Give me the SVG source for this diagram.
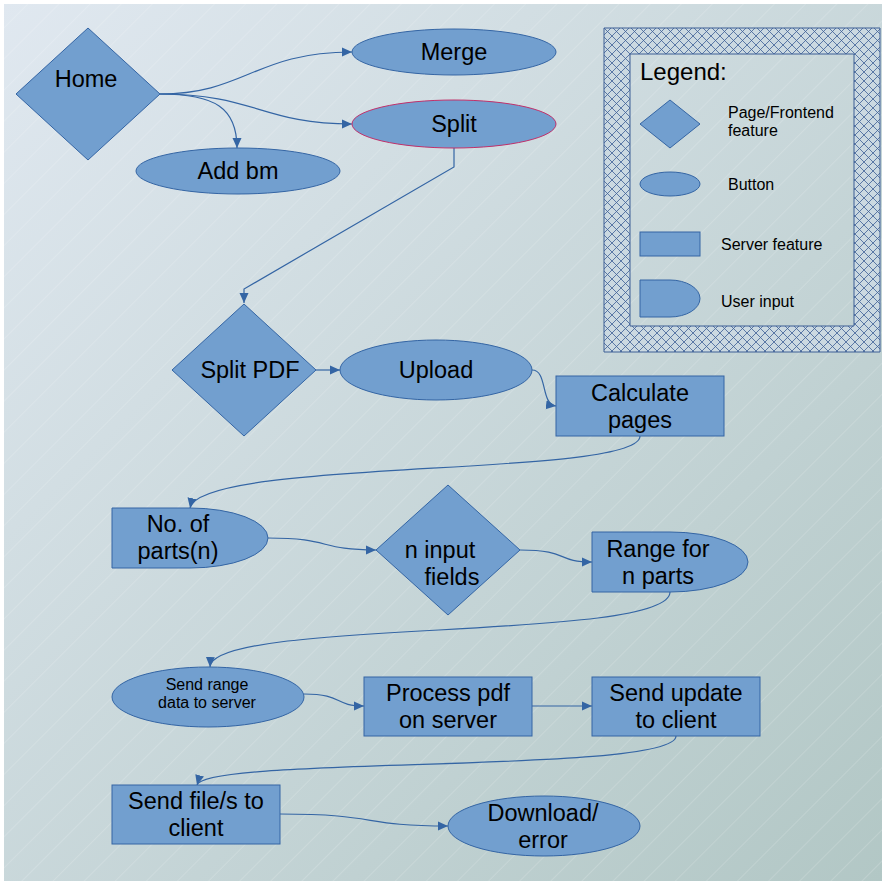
<svg xmlns="http://www.w3.org/2000/svg" width="887" height="885" viewBox="0 0 887 885">
<defs>
<linearGradient id="bg" x1="0" y1="0" x2="1" y2="1">
<stop offset="0" stop-color="#e0e8f0"/>
<stop offset="1" stop-color="#b2c7c5"/>
</linearGradient>
<pattern id="diag" width="22" height="22" patternUnits="userSpaceOnUse" patternTransform="rotate(45)">
<line x1="0" y1="0" x2="0" y2="22" stroke="#ffffff" stroke-opacity="0.3" stroke-width="1"/>
</pattern>
<pattern id="hatch" width="9" height="9" patternUnits="userSpaceOnUse">
<rect width="9" height="9" fill="#cbd9e1"/>
<path d="M0,0 L9,9 M9,0 L0,9" stroke="#3d5f95" stroke-width="0.8"/>
</pattern>
<marker id="arr" viewBox="0 0 10 10" refX="10" refY="5" markerWidth="10" markerHeight="10" markerUnits="userSpaceOnUse" orient="auto">
<path d="M0,0.5 L10,5 L0,9.5 Z" fill="#3465a4"/>
</marker>
<style>
.n{fill:#729fcf;stroke:#3465a4;stroke-width:1}
.t{font-family:"Liberation Sans",Arial,sans-serif;font-size:23.5px;fill:#000;text-anchor:middle}
.s{font-family:"Liberation Sans",Arial,sans-serif;font-size:16px;fill:#000}
.c{fill:none;stroke:#3465a4;stroke-width:1.2;marker-end:url(#arr)}
</style>
</defs>
<rect x="0" y="0" width="887" height="885" fill="#ffffff"/>
<rect x="4" y="4" width="878" height="877" fill="url(#bg)"/>
<rect x="4" y="4" width="878" height="877" fill="url(#diag)"/>

<g id="legend">
<path d="M604,28 H880 V352 H604 Z M630,54 V326 H854 V54 Z" fill="url(#hatch)" fill-rule="evenodd" stroke="#3d5f95" stroke-width="1"/>
<text class="t" x="640" y="80" style="text-anchor:start;font-size:24px">Legend:</text>
<polygon class="n" points="640,124 670,100 700,124 670,148"/>
<text class="s" x="728" y="118">Page/Frontend</text>
<text class="s" x="728" y="136">feature</text>
<ellipse class="n" cx="670" cy="184" rx="30" ry="12"/>
<text class="s" x="728" y="190">Button</text>
<rect class="n" x="640" y="232" width="60" height="24"/>
<text class="s" x="721" y="250">Server feature</text>
<path class="n" d="M640,280 H670 A30,18.5 0 0 1 670,317 H640 Z"/>
<text class="s" x="721" y="307">User input</text>
</g>

<g id="connectors">
<path class="c" d="M160,94 C245,94 255,52 352,52"/>
<path class="c" d="M160,94 C255,94 262,124 352,124"/>
<path class="c" d="M160,94 C215,94 237,108 237,148"/>
<path class="c" d="M454,148 L454,167 L244,289 L244,303"/>
<path class="c" d="M316,370 L340,370"/>
<path class="c" d="M532,370 C548,370 540,404 556,406"/>
<path class="c" d="M640,436 C640,478 200,458 190,508"/>
<path class="c" d="M268,538 C332,538 318,550 376,550"/>
<path class="c" d="M520,550 C570,550 555,562 592,562"/>
<path class="c" d="M670,592 C670,642 212,618 210,667"/>
<path class="c" d="M304,694 C344,694 333,706 364,706"/>
<path class="c" d="M532,706 L592,706"/>
<path class="c" d="M676,736 C676,774 205,756 197,785"/>
<path class="c" d="M280,814 C380,814 360,826 448,826"/>
</g>

<g id="home">
<polygon class="n" points="16,94 88,28 160,94 88,160"/>
<text class="t" x="86" y="87">Home</text>
</g>
<g id="merge">
<ellipse class="n" cx="454" cy="52" rx="102" ry="23"/>
<text class="t" x="454" y="60">Merge</text>
</g>
<g id="split">
<ellipse class="n" cx="454" cy="124" rx="102" ry="24" style="stroke:#c0306a"/>
<text class="t" x="454" y="132">Split</text>
</g>
<g id="addbm">
<ellipse class="n" cx="238" cy="171" rx="102" ry="23"/>
<text class="t" x="238" y="179">Add bm</text>
</g>
<g id="splitpdf">
<polygon class="n" points="172,370 244,304 316,370 244,436"/>
<text class="t" x="250" y="378">Split PDF</text>
</g>
<g id="upload">
<ellipse class="n" cx="436" cy="370" rx="96" ry="30"/>
<text class="t" x="436" y="378">Upload</text>
</g>
<g id="calculate">
<rect class="n" x="556" y="376" width="168" height="60"/>
<text class="t" x="640" y="401">Calculate</text>
<text class="t" x="640" y="428">pages</text>
</g>
<g id="parts">
<path class="n" d="M112,508 H190 A78,30 0 0 1 190,568 H112 Z"/>
<text class="t" x="178" y="532">No. of</text>
<text class="t" x="178" y="559">parts(n)</text>
</g>
<g id="inputs">
<polygon class="n" points="376,550 448,485 520,550 448,615"/>
<text class="t" x="440" y="558">n input</text>
<text class="t" x="452" y="585">fields</text>
</g>
<g id="range">
<path class="n" d="M592,532 H670 A78,30 0 0 1 670,592 H592 Z"/>
<text class="t" x="658" y="557">Range for</text>
<text class="t" x="658" y="584">n parts</text>
</g>
<g id="sendrange">
<ellipse class="n" cx="208" cy="697" rx="96" ry="30"/>
<text class="s" x="207" y="690" style="text-anchor:middle">Send range</text>
<text class="s" x="207" y="708" style="text-anchor:middle">data to server</text>
</g>
<g id="process">
<rect class="n" x="364" y="677" width="168" height="59"/>
<text class="t" x="448" y="701">Process pdf</text>
<text class="t" x="448" y="728">on server</text>
</g>
<g id="sendupdate">
<rect class="n" x="592" y="677" width="168" height="59"/>
<text class="t" x="676" y="701">Send update</text>
<text class="t" x="676" y="728">to client</text>
</g>
<g id="sendfile">
<rect class="n" x="112" y="785" width="168" height="59"/>
<text class="t" x="196" y="809">Send file/s to</text>
<text class="t" x="196" y="836">client</text>
</g>
<g id="download">
<ellipse class="n" cx="544" cy="826" rx="96" ry="30"/>
<text class="t" x="543" y="821">Download/</text>
<text class="t" x="543" y="848">error</text>
</g>
</svg>
